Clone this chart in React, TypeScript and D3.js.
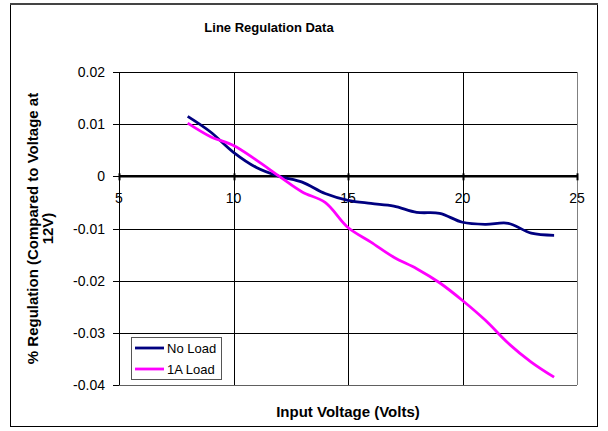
import * as d3 from "d3";

type Pt = { v: number; r: number };

const volts = [8, 9, 10, 11, 12, 13, 14, 15, 16, 17, 18, 19, 20, 21, 22, 23, 24];
const noLoad = [
  0.0115, 0.0085, 0.0046, 0.0017, 0.0, -0.0011, -0.0033, -0.0046, -0.0052,
  -0.0057, -0.0069, -0.0071, -0.0088, -0.0092, -0.009, -0.0109, -0.0113,
];
const oneALoad = [
  0.0102, 0.0076, 0.0059, 0.0031, 0.0, -0.003, -0.005, -0.0098, -0.0126,
  -0.0155, -0.0177, -0.0204, -0.0238, -0.0276, -0.032, -0.0356, -0.0385,
];
const xTicks = [5, 10, 15, 20, 25];
const yTicks = [0.02, 0.01, 0, -0.01, -0.02, -0.03, -0.04];
const seriesNames = ["No Load", "1A Load"];
const seriesColors = ["#000080", "#ff00ff"];

const W = 608;
const H = 431;
const plot = { left: 119, right: 577, top: 72, bottom: 385 };
const font = "'Liberation Sans', Arial, sans-serif";

const App = () => {
  const x = d3.scaleLinear().domain([5, 25]).range([plot.left, plot.right]);
  const y = d3.scaleLinear().domain([-0.04, 0.02]).range([plot.bottom, plot.top]);

  const line = d3
    .line<Pt>()
    .x((d) => x(d.v))
    .y((d) => y(d.r))
    .curve(d3.curveCatmullRom.alpha(0.5));

  const series = [noLoad, oneALoad].map((vals) =>
    volts.map((v, i) => ({ v, r: vals[i] }))
  );

  // Excel style labels: plain hyphen for the minus sign
  const fmt = (t: number) =>
    t === 0 ? "0" : d3.format(".2f")(t).replace("\u2212", "-");

  return (
    <svg
      width={W}
      height={H}
      style={{ position: "absolute", left: 0, top: 0 }}
      fontFamily={font}
    >
      <rect x={0} y={0} width={W} height={H} fill="#fff" />
      {/* chart frame */}
      <rect x={10.5} y={4.5} width={587} height={422} fill="#fff" stroke="#000" />
      <line x1={10} x2={598} y1={4} y2={4} stroke="#444" strokeWidth={2} />

      <text x={269} y={32} textAnchor="middle" fontSize={13} fontWeight="bold">
        Line Regulation Data
      </text>

      {/* grid */}
      {yTicks.map((t) => (
        <line key={"gy" + t} x1={plot.left - 6} x2={plot.right} y1={Math.round(y(t)) + 0.5} y2={Math.round(y(t)) + 0.5} stroke="#000" />
      ))}
      {xTicks.map((t) => (
        <line key={"gx" + t} x1={Math.round(x(t)) + 0.5} x2={Math.round(x(t)) + 0.5} y1={plot.top} y2={plot.bottom} stroke={t === 25 ? "#808080" : "#000"} />
      ))}
      <line x1={plot.left} x2={plot.right} y1={plot.bottom + 0.5} y2={plot.bottom + 0.5} stroke="#606060" />

      {/* zero axis */}
      <line x1={plot.left} x2={plot.right + 1} y1={y(0)} y2={y(0)} stroke="#000" strokeWidth={2.5} />
      {xTicks.map((t) => (
        <line key={"tx" + t} x1={Math.round(x(t)) + 0.5} x2={Math.round(x(t)) + 0.5} y1={y(0) - 3} y2={y(0) + 4} stroke="#000" strokeWidth={2} />
      ))}
      {xTicks.map((t) => (
        <text key={"lx" + t} x={x(t)} y={y(0) + 27} textAnchor="middle" fontSize={14}>
          {t}
        </text>
      ))}
      {yTicks.map((t) => (
        <text key={"ly" + t} x={plot.left - 14} y={y(t) + 5} textAnchor="end" fontSize={14}>
          {fmt(t)}
        </text>
      ))}

      {/* series */}
      {series.map((s, i) => (
        <path key={seriesNames[i]} d={line(s) ?? ""} fill="none" stroke={seriesColors[i]} strokeWidth={2.8} />
      ))}

      {/* axis titles */}
      <g transform={`translate(38, ${(plot.top + plot.bottom) / 2}) rotate(-90)`}>
        <text textAnchor="middle" fontSize={15} fontWeight="bold">
          % Regulation (Compared to Voltage at
        </text>
        <text y={15} textAnchor="middle" fontSize={15} fontWeight="bold">
          12V)
        </text>
      </g>
      <text x={(plot.left + plot.right) / 2} y={417} textAnchor="middle" fontSize={15} fontWeight="bold">
        Input Voltage (Volts)
      </text>

      {/* legend */}
      <rect x={131.5} y={337.5} width={90} height={42} fill="#fff" stroke="#555" />
      {seriesNames.map((n, i) => (
        <g key={n}>
          <line x1={135} x2={164} y1={348 + i * 21} y2={348 + i * 21} stroke={seriesColors[i]} strokeWidth={2.8} />
          <text x={167} y={353 + i * 21} fontSize={13}>
            {n}
          </text>
        </g>
      ))}
    </svg>
  );
};

export default App;
